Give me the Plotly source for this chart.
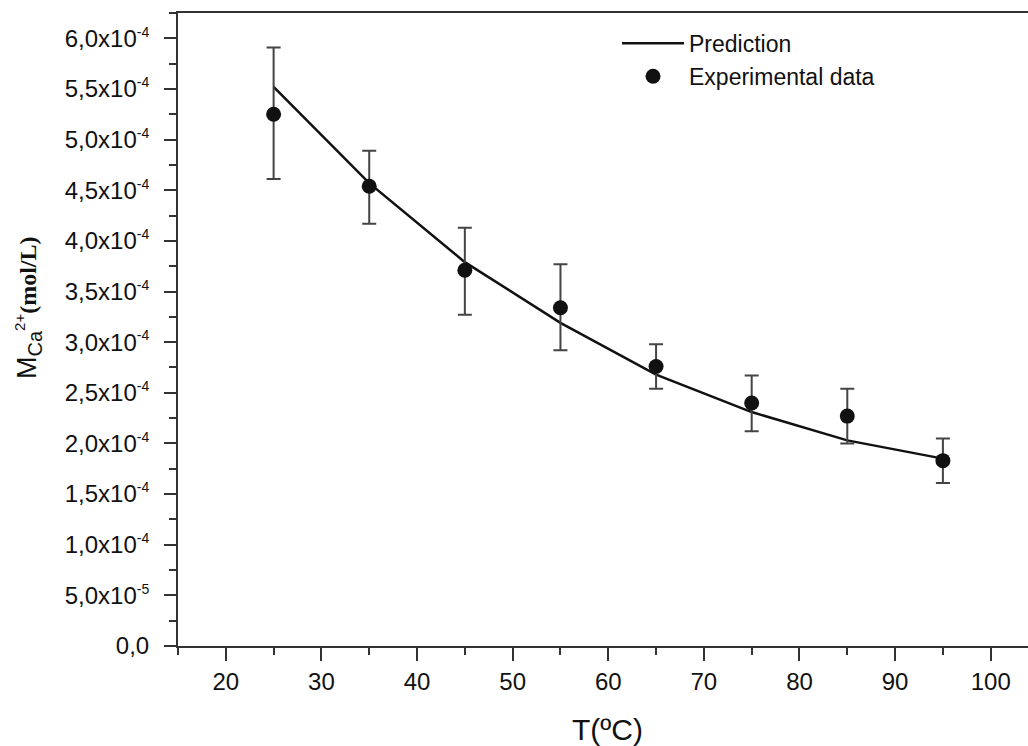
import plotly.graph_objects as go

# Data
temps = [25, 35, 45, 55, 65, 75, 85, 95]
exp_vals = [5.25e-4, 4.54e-4, 3.71e-4, 3.34e-4, 2.76e-4, 2.40e-4, 2.27e-4, 1.83e-4]
err_plus = [0.66e-4, 0.35e-4, 0.42e-4, 0.43e-4, 0.22e-4, 0.27e-4, 0.27e-4, 0.22e-4]
err_minus = [0.64e-4, 0.37e-4, 0.44e-4, 0.42e-4, 0.22e-4, 0.28e-4, 0.27e-4, 0.22e-4]
pred_vals = [5.52e-4, 4.57e-4, 3.79e-4, 3.19e-4, 2.68e-4, 2.31e-4, 2.03e-4, 1.85e-4]

y_tickvals = [0, 0.5e-4, 1.0e-4, 1.5e-4, 2.0e-4, 2.5e-4, 3.0e-4, 3.5e-4, 4.0e-4, 4.5e-4, 5.0e-4, 5.5e-4, 6.0e-4]
y_mantissas = ["0,0", "5,0", "1,0", "1,5", "2,0", "2,5", "3,0", "3,5", "4,0", "4,5", "5,0", "5,5", "6,0"]
y_exponents = ["", "-5", "-4", "-4", "-4", "-4", "-4", "-4", "-4", "-4", "-4", "-4", "-4"]
y_ticktext = [m if not e else f"{m}x10<sup><span style='font-size:14px'>{e}</span></sup>"
              for m, e in zip(y_mantissas, y_exponents)]

FONT = "Liberation Sans, Arial, sans-serif"
AX = "#333333"

fig = go.Figure()
fig.add_trace(go.Scatter(
    x=temps, y=pred_vals, mode="lines", name="Prediction",
    line=dict(color="#111111", width=2.5),
))
fig.add_trace(go.Scatter(
    x=temps, y=exp_vals, mode="markers", name="Experimental data",
    marker=dict(color="#111111", size=15),
    error_y=dict(type="data", array=err_plus, arrayminus=err_minus,
                 color="#444444", thickness=2, width=7),
))

fig.update_layout(
    width=1028, height=746,
    margin=dict(l=178, r=0, t=13, b=100),
    paper_bgcolor="white", plot_bgcolor="white",
    font=dict(family=FONT, size=24, color="#111111"),
    showlegend=True,
    legend=dict(x=0.5165, y=0.986, xanchor="left", yanchor="top",
                bgcolor="rgba(0,0,0,0)", borderwidth=0,
                font=dict(family=FONT, size=23, color="#111111"),
                itemwidth=62, tracegroupgap=0),
    xaxis=dict(
        range=[15, 103.9], tickmode="linear", tick0=0, dtick=10,
        showgrid=False, zeroline=False,
        showline=True, linecolor=AX, linewidth=2, mirror=True,
        ticks="outside", ticklen=13, tickwidth=2, tickcolor=AX,
        ticklabelstandoff=0,
        tickfont=dict(family=FONT, size=24, color="#111111"),
        minor=dict(dtick=5, tick0=0, ticks="outside", ticklen=7, tickwidth=2, tickcolor=AX),
    ),
    yaxis=dict(
        range=[0, 6.25e-4], tickmode="array", tickvals=y_tickvals, ticktext=y_ticktext,
        showgrid=False, zeroline=False,
        showline=True, linecolor=AX, linewidth=2, mirror=False,
        ticks="outside", ticklen=12, tickwidth=2, tickcolor=AX,
        ticklabelstandoff=10,
        tickfont=dict(family=FONT, size=24, color="#111111"),
        minor=dict(dtick=0.25e-4, tick0=0, ticks="outside", ticklen=7, tickwidth=2, tickcolor=AX),
    ),
    annotations=[
        dict(text="T(ºC)", xref="paper", yref="paper",
             x=(607 - 178) / 850, y=(646 - 729) / 633,
             xanchor="center", yanchor="middle", showarrow=False,
             font=dict(family=FONT, size=30, color="#111111")),
        dict(text="M<sub><span style='font-size:20px'>Ca</span></sub>"
                  "<sup><span style='font-size:15px'>2+</span></sup>"
                  "<span style='font-family:Liberation Serif, Times New Roman, serif;font-size:24px'><b>(mol/L)</b></span>",
             xref="paper", yref="paper",
             x=(28 - 178) / 850, y=(646 - 308) / 633,
             xanchor="center", yanchor="middle", showarrow=False, textangle=-90,
             font=dict(family=FONT, size=27, color="#111111")),
    ],
)

fig.write_html("out.html")
